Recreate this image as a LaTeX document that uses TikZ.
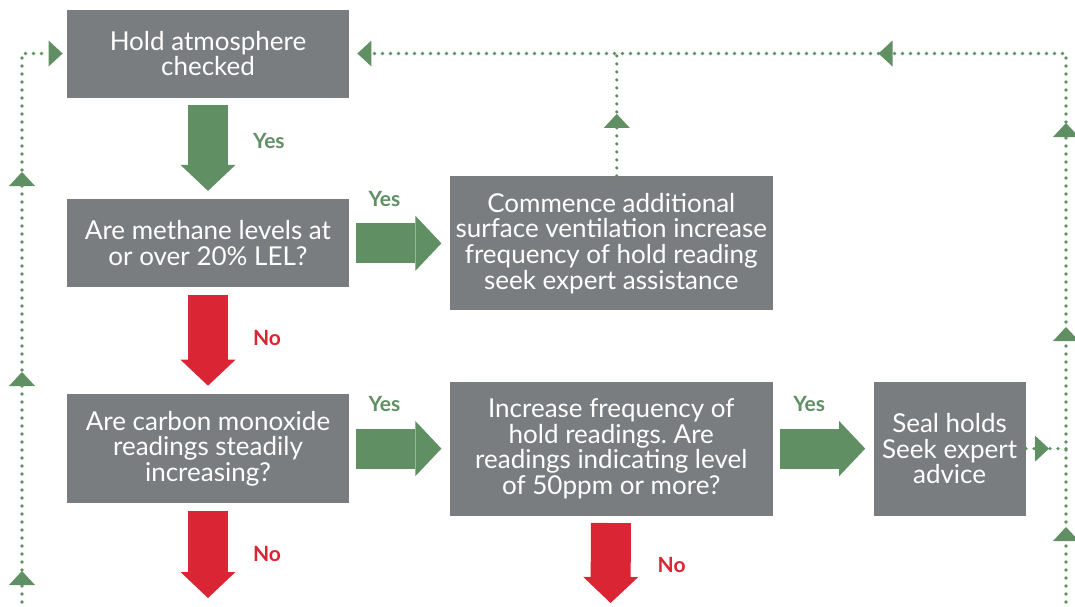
\documentclass[tikz,border=0pt]{standalone}
\usepackage{fontspec}
\setmainfont{Lato}
\usepackage{xcolor}
\usepackage{tikz}
\usetikzlibrary{arrows.meta,positioning,decorations.markings}
\definecolor{boxgray}{HTML}{7A7D80}
\definecolor{okgreen}{HTML}{608F64}
\definecolor{alertred}{HTML}{DA2534}
\frenchspacing

\begin{document}
\begin{tikzpicture}[
  x=0.5pt, y=-0.5pt,
  font=\fontsize{13}{12.8}\selectfont,
  stepbox/.style={
    fill=boxgray,
    text=white,
    align=center,
    inner sep=0pt,
    minimum width=141pt,
    minimum height=44pt
  },
  widebox/.style={
    stepbox,
    minimum width=161.5pt,
    minimum height=67pt
  },
  loophead/.tip={Triangle[length=7pt,width=13pt,line width=0pt]},
  blockhead/.tip={Triangle[length=13pt,width=27.5pt,line width=0pt]},
  block/.style={line width=20pt,-blockhead,shorten <=3.5pt,shorten >=4pt},
  yesarrow/.style={block,draw=okgreen},
  noarrow/.style={block,draw=alertred},
  yeslabel/.style={text=okgreen,font=\fontsize{10.5}{12}\selectfont\bfseries,inner sep=0pt},
  nolabel/.style={text=alertred,font=\fontsize{10.5}{12}\selectfont\bfseries,inner sep=0pt},
  loopline/.style={draw=okgreen,line width=1.8pt,line cap=round,dash pattern=on 0pt off 4pt}
]
\useasboundingbox (0,0) rectangle (1075,606);

\node[stepbox] (hold) at (208,53.5) {Hold atmosphere\\checked};
\node[stepbox, below=50.5pt of hold] (methane) {Are methane levels at\\or over 20\% LEL?};
\node[widebox, right=50pt of methane] (commence) {Commence additional\\surface ventilation increase\\frequency of hold reading\\seek expert assistance};
\node[stepbox, below=53pt of methane, minimum height=54.5pt] (carbon) {Are carbon monoxide\\readings steadily\\increasing?};
\node[widebox, right=50pt of carbon] (ppm) {Increase frequency of\\hold readings. Are\\readings indicating level\\of 50ppm or more?};
\node[widebox, right=50pt of ppm, minimum width=76pt] (seal) {Seal holds\\Seek expert\\advice};

\coordinate (leftfoot) at (22,610);
\coordinate (rightfoot) at (1066,610);
\coordinate (carbonout) at (208,606);
\coordinate (ppmout) at (610.5,611);

% main flow
\draw[yesarrow] (hold) -- node[yeslabel, pos=0.43, right=12.5pt] {Yes} (methane);
\draw[yesarrow] (methane) -- node[yeslabel, pos=0.35, above=8.5pt] {Yes} (commence);
\draw[noarrow] (methane) -- node[nolabel, pos=0.47, right=12.5pt] {No} (carbon);
\draw[yesarrow] (carbon) -- node[yeslabel, pos=0.35, above=8.5pt] {Yes} (ppm);
\draw[yesarrow] (ppm) -- node[yeslabel, pos=0.36, above=8.5pt] {Yes} (seal);
\draw[noarrow] (carbon) -- node[nolabel, pos=0.49, right=12.5pt] {No} (carbonout);
\draw[noarrow] (ppm) -- node[nolabel, pos=0.52, right=13.5pt] {No} (ppmout);

% dotted return loops
\draw[loopline, -loophead, shorten >=2pt, postaction={decorate,decoration={markings,
    mark=at position 19.5pt with {\arrow{loophead}},
    mark=at position 119pt with {\arrow{loophead}},
    mark=at position 219pt with {\arrow{loophead}}}}]
  (leftfoot) |- (hold.west);
\draw[loopline, -loophead, shorten >=4pt, postaction={decorate,decoration={markings,
    mark=at position 41.5pt with {\arrow{loophead}},
    mark=at position 141.5pt with {\arrow{loophead}},
    mark=at position 243.5pt with {\arrow{loophead}},
    mark=at position 372pt with {\arrow{loophead}}}}]
  (rightfoot) |- (hold.east);
\draw[loopline, postaction={decorate,decoration={markings,
    mark=at position 31pt with {\arrow{loophead}}}}]
  ([xshift=2.75pt]commence.north) -- ([xshift=2.75pt]commence.north |- hold.east);
\draw[loopline, postaction={decorate,decoration={markings,
    mark=at position 11.5pt with {\arrow{loophead}}}}]
  (seal.east) -- (seal.east -| rightfoot);
\end{tikzpicture}
\end{document}
